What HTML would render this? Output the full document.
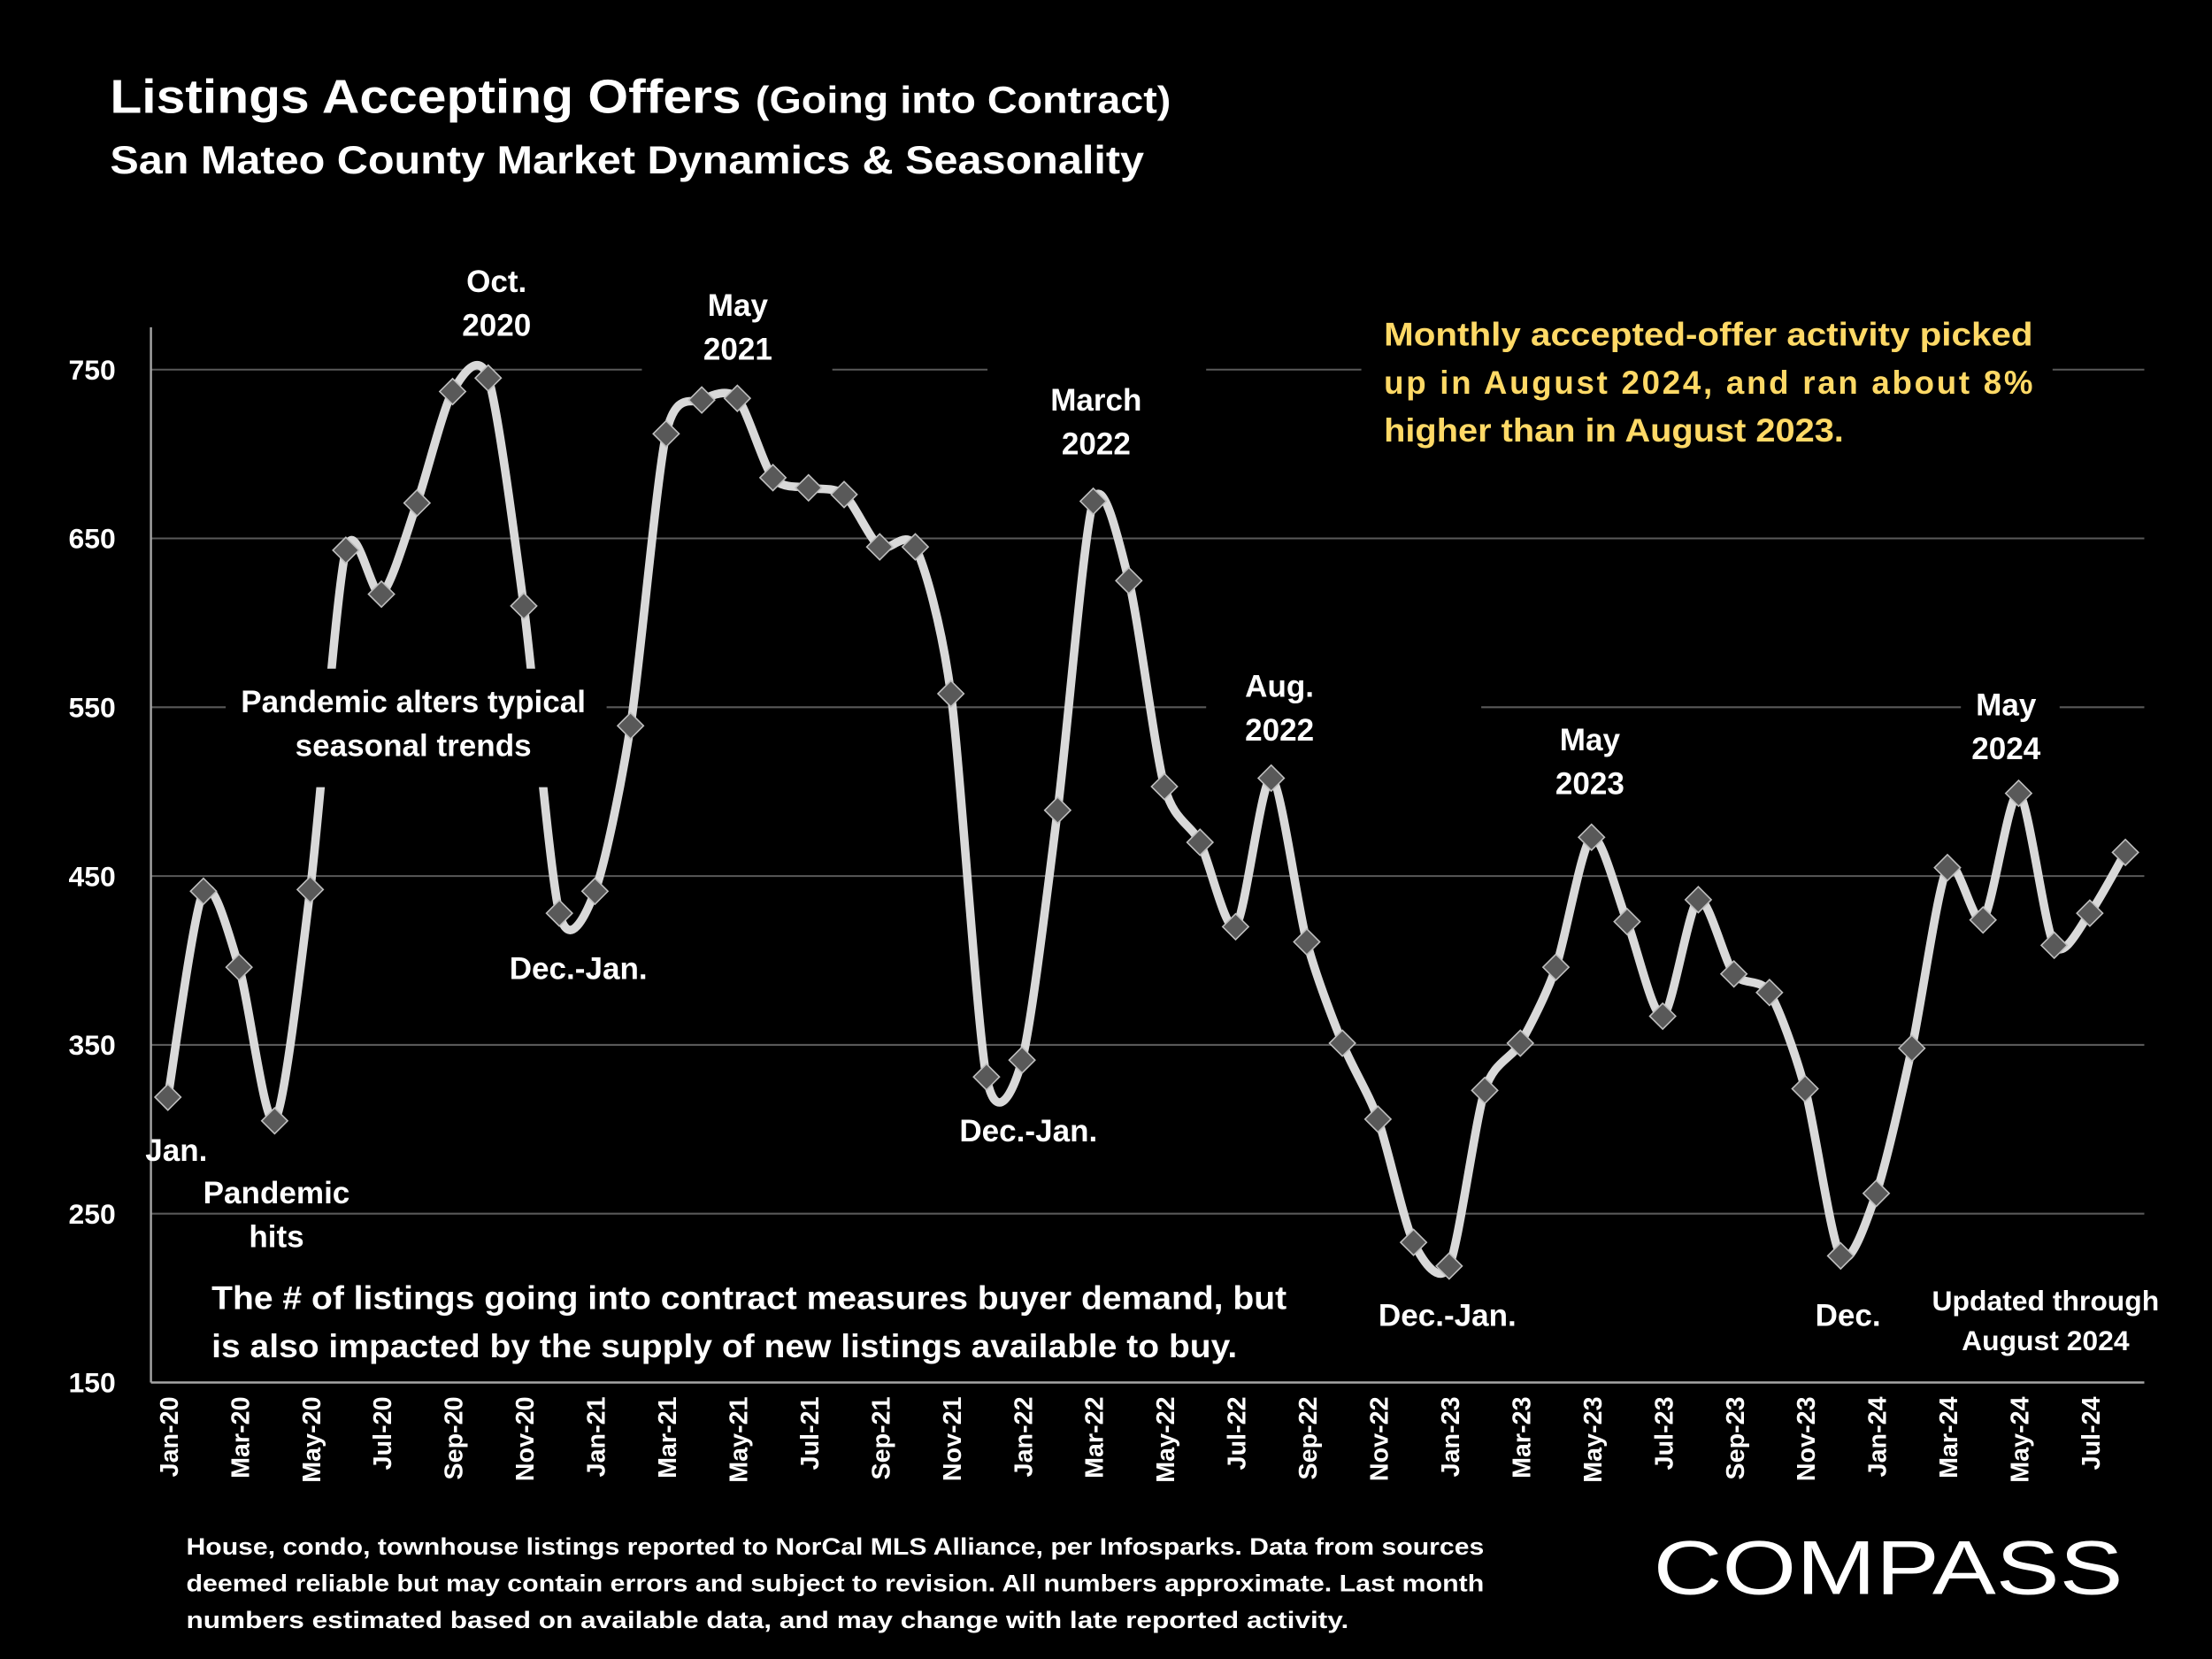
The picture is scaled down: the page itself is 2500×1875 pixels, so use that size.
<!DOCTYPE html>
<html><head><meta charset="utf-8"><style>
html,body{margin:0;padding:0;background:#000;}
svg{display:block;}
text{font-family:"Liberation Sans",sans-serif;font-weight:bold;fill:#fff;}
</style></head><body>
<svg id="chart" width="2500" height="1875" viewBox="0 0 1568 1176" xmlns="http://www.w3.org/2000/svg">
<rect width="1568" height="1176" fill="#000"/>
<text x="78" y="80" font-size="34" textLength="752" lengthAdjust="spacingAndGlyphs">Listings Accepting Offers <tspan font-size="27">(Going into Contract)</tspan></text>
<text x="78" y="123" font-size="28" textLength="733" lengthAdjust="spacingAndGlyphs">San Mateo County Market Dynamics &amp; Seasonality</text>
<g id="grid"></g>
<g id="yticks"></g>
<g id="xticks"></g>
<line x1="107" y1="232" x2="107" y2="980" stroke="#a6a6a6" stroke-width="1.5"/>
<line x1="107" y1="980" x2="1520" y2="980" stroke="#a6a6a6" stroke-width="1.5"/>
<g id="annobg">
<rect x="300" y="180" width="110" height="70" fill="#000"/>
<rect x="455" y="195" width="135" height="70" fill="#000"/>
<rect x="700" y="255" width="155" height="80" fill="#000"/>
<rect x="965" y="220" width="490" height="100" fill="#000"/>
<rect x="855" y="468" width="195" height="70" fill="#000"/>
<rect x="1390" y="480" width="70" height="70" fill="#000"/>
</g>
<path id="line" fill="none" stroke="#d9d9d9" stroke-width="6" stroke-linejoin="round"/>
<g id="markers"></g>
<rect x="160" y="474" width="270" height="84" fill="#000"/>
<g font-size="22" text-anchor="middle">
<text x="352" y="207">Oct.</text><text x="352" y="238">2020</text>
<text x="523" y="224">May</text><text x="523" y="255">2021</text>
<text x="777" y="291">March</text><text x="777" y="322">2022</text>
<text x="907" y="494">Aug.</text><text x="907" y="525">2022</text>
<text x="1127" y="532">May</text><text x="1127" y="563">2023</text>
<text x="1422" y="507">May</text><text x="1422" y="538">2024</text>
<text x="125" y="823">Jan.</text>
<text x="196" y="853">Pandemic</text><text x="196" y="884">hits</text>
<text x="293" y="505">Pandemic alters typical</text><text x="293" y="536">seasonal trends</text>
<text x="410" y="694">Dec.-Jan.</text>
<text x="729" y="809">Dec.-Jan.</text>
<text x="1026" y="940">Dec.-Jan.</text>
<text x="1310" y="940">Dec.</text>
<text x="1450" y="929" font-size="20">Updated through</text><text x="1450" y="957" font-size="20">August 2024</text>
</g>
<g font-size="23">
<text x="981" y="245" textLength="460" lengthAdjust="spacingAndGlyphs" style="fill:#ffd966">Monthly accepted-offer activity picked</text>
<text x="981" y="279" textLength="460" lengthAdjust="spacing" style="fill:#ffd966">up in August 2024, and ran about 8%</text>
<text x="981" y="313" textLength="326" lengthAdjust="spacingAndGlyphs" style="fill:#ffd966">higher than in August 2023.</text>
</g>
<g font-size="23">
<text x="150" y="928" textLength="762" lengthAdjust="spacingAndGlyphs">The # of listings going into contract measures buyer demand, but</text>
<text x="150" y="962" textLength="727" lengthAdjust="spacingAndGlyphs">is also impacted by the supply of new listings available to buy.</text>
</g>
<g font-size="17">
<text x="132" y="1102" textLength="920" lengthAdjust="spacingAndGlyphs">House, condo, townhouse listings reported to NorCal MLS Alliance, per Infosparks. Data from sources</text>
<text x="132" y="1128" textLength="920" lengthAdjust="spacingAndGlyphs">deemed reliable but may contain errors and subject to revision. All numbers approximate. Last month</text>
<text x="132" y="1154" textLength="824" lengthAdjust="spacingAndGlyphs">numbers estimated based on available data, and may change with late reported activity.</text>
</g>
<text x="1172" y="1130" font-size="54" textLength="333" lengthAdjust="spacingAndGlyphs" style="font-weight:normal">COMPASS</text>
</svg>
<script>
const months = ["Jan-20","Feb-20","Mar-20","Apr-20","May-20","Jun-20","Jul-20","Aug-20","Sep-20","Oct-20","Nov-20","Dec-20","Jan-21","Feb-21","Mar-21","Apr-21","May-21","Jun-21","Jul-21","Aug-21","Sep-21","Oct-21","Nov-21","Dec-21","Jan-22","Feb-22","Mar-22","Apr-22","May-22","Jun-22","Jul-22","Aug-22","Sep-22","Oct-22","Nov-22","Dec-22","Jan-23","Feb-23","Mar-23","Apr-23","May-23","Jun-23","Jul-23","Aug-23","Sep-23","Oct-23","Nov-23","Dec-23","Jan-24","Feb-24","Mar-24","Apr-24","May-24","Jun-24","Jul-24","Aug-24"];
const values = [319,441,396,305,442,643,617,671,737,745,610,428,441,539,712,732,733,686,680,676,645,645,558,331,341,489,672,625,503,470,420,508,411,351,306,233,219,323,351,396,473,423,367,436,392,381,324,225,262,348,455,424,499,409,428,464];
const yTicks = [150,250,350,450,550,650,750];
const gridVals = [250,350,450,550,650,750];
const NS="http://www.w3.org/2000/svg";
function xs(i){return 119+i*(1330-119)/48;}
function ys(v){return 980-(v-150)*(980-262)/600;}
const grid=document.getElementById('grid');
gridVals.forEach(v=>{const l=document.createElementNS(NS,'line');


l.setAttribute('x1',107);l.setAttribute('x2',1520);l.setAttribute('y1',ys(v));l.setAttribute('y2',ys(v));l.setAttribute('stroke','#595959');l.setAttribute('stroke-width','1.3');grid.appendChild(l);});
const yt=document.getElementById('yticks');
yTicks.forEach(v=>{const t=document.createElementNS(NS,'text');


t.setAttribute('x',82);t.setAttribute('y',ys(v)+7);t.setAttribute('text-anchor','end');t.setAttribute('font-size','20');t.textContent=v;yt.appendChild(t);});
const xt=document.getElementById('xticks');
months.forEach((m,i)=>{if(i%2)return;const t=document.createElementNS(NS,'text');


const x=xs(i)+7,y=990;t.setAttribute('transform','translate('+x+','+y+') rotate(-90)');t.setAttribute('text-anchor','end');t.setAttribute('font-size','18');t.textContent=m;xt.appendChild(t);});
const pts=values.map((v,i)=>[xs(i),ys(v)]);
let d='M'+pts[0][0]+','+pts[0][1];
const k=7.5;
for(let i=0;i<pts.length-1;i++){const p0=pts[Math.max(0,i-1)],p1=pts[i],p2=pts[i+1],p3=pts[Math.min(pts.length-1,i+2)];
const c1=[p1[0]+(p2[0]-p0[0])/k,p1[1]+(p2[1]-p0[1])/k],c2=[p2[0]-(p3[0]-p1[0])/k,p2[1]-(p3[1]-p1[1])/k];
d+=' C'+c1+' '+c2+' '+p2;}
document.getElementById('line').setAttribute('d',d);
const mk=document.getElementById('markers');
pts.forEach(p=>{const r=document.createElementNS(NS,'rect');


r.setAttribute('x',p[0]-6.5);r.setAttribute('y',p[1]-6.5);r.setAttribute('width',13);r.setAttribute('height',13);r.setAttribute('fill','#595959');r.setAttribute('stroke','#bfbfbf');r.setAttribute('stroke-width','1');r.setAttribute('transform','rotate(45 '+p[0]+' '+p[1]+')');mk.appendChild(r);});
</script>
</body></html>
